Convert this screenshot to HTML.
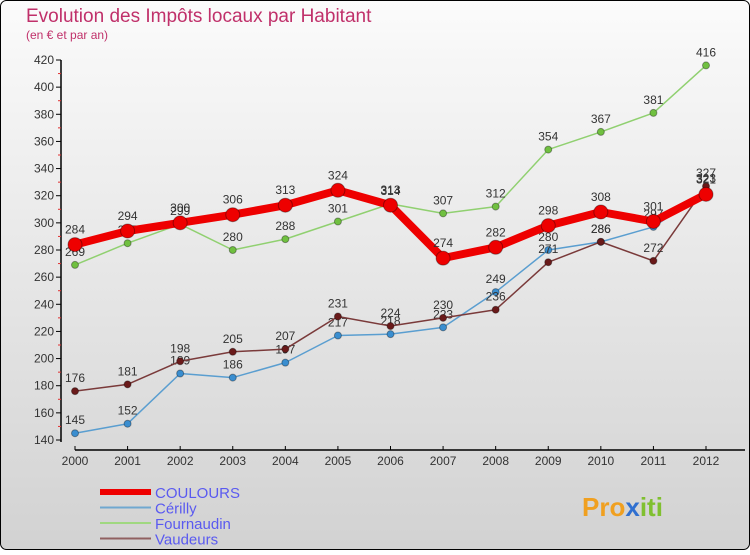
<!DOCTYPE html>
<html><head><meta charset="utf-8"><style>
body{margin:0;width:750px;height:550px;overflow:hidden;font-family:"Liberation Sans",sans-serif}
</style></head><body>
<svg width="750" height="550" xmlns="http://www.w3.org/2000/svg">
<defs><linearGradient id="bg" x1="0" y1="0" x2="0" y2="1"><stop offset="0" stop-color="#fbfbfb"/><stop offset="1" stop-color="#d2d2d2"/></linearGradient></defs>
<rect x="0.5" y="0.5" width="749" height="549" rx="6" fill="url(#bg)" stroke="#000"/>
<text x="26" y="22" font-size="19" fill="#c0306a">Evolution des Impôts locaux par Habitant</text>
<text x="26" y="39" font-size="12" fill="#c0306a">(en € et par an)</text>
<g id="axes"></g><g id="series"></g><g id="legend"></g>
<text x="582" y="516" font-size="26" font-weight="bold" fill="#f0a020">Pro<tspan fill="#3070d0">x</tspan><tspan fill="#80c030">iti</tspan></text>
</svg>
<script>
const years=[2000,2001,2002,2003,2004,2005,2006,2007,2008,2009,2010,2011,2012];
const yTicks=[140,160,180,200,220,240,260,280,300,320,340,360,380,400,420];
const coulours=[284,294,300,306,313,324,313,274,282,298,308,301,321];
const cerilly=[145,152,189,186,197,217,218,223,249,280,286,297,323];
const fournaudin=[269,285,299,280,288,301,314,307,312,354,367,381,416];
const vaudeurs=[176,181,198,205,207,231,224,230,236,271,286,272,327];
const NS="http://www.w3.org/2000/svg";
const xs=i=>75+i*(706-75)/(years.length-1);
const ys=v=>440-(v-140)*380/280;
function mk(t,a,p){const e=document.createElementNS(NS,t);for(const k in a)e.setAttribute(k,a[k]);p.appendChild(e);return e;}
const ax=document.getElementById('axes');
let l=mk('line',{x1:61,y1:60,x2:61,y2:442,stroke:'#000','stroke-width':1.5},ax);


l=mk('line',{x1:75,y1:450,x2:745,y2:450,stroke:'#000','stroke-width':1.5},ax);


yTicks.forEach((v,i)=>{
  mk('line',{x1:56,x2:61,y1:ys(v),y2:ys(v),stroke:'#000'},ax);
  if(i<yTicks.length-1) mk('line',{x1:58,x2:61,y1:ys(v+10),y2:ys(v+10),stroke:'#e03030'},ax);
  const t=mk('text',{x:54,y:ys(v)+4,'font-size':12,'text-anchor':'end',fill:'#333'},ax);t.textContent=v;
  
  
});
years.forEach((y,i)=>{
  mk('line',{x1:xs(i),x2:xs(i),y1:446,y2:450,stroke:'#000'},ax);
  const t=mk('text',{x:xs(i),y:465,'font-size':12,'text-anchor':'middle',fill:'#333'},ax);t.textContent=y;
  
  
});
const sg=document.getElementById('series');
function draw(vals,color,w,r,name,dot){
  const g=mk('g',{},sg);
  
  
  mk('polyline',{points:vals.map((v,i)=>xs(i)+','+ys(v)).join(' '),fill:'none',stroke:color,'stroke-width':w,'stroke-linejoin':'round'},g);
  vals.forEach((v,i)=>{
    const c=mk('circle',{cx:xs(i),cy:ys(v),r:r,fill:dot,stroke:'rgba(0,0,0,0.35)','stroke-width':1},g);
    
    
    const t=mk('text',{x:xs(i),y:ys(v)-9-(r>5?2:0),'font-size':12,'text-anchor':'middle',fill:'#333'},g);t.textContent=v;
    
    
  });
}
draw(fournaudin,'#90d070',1.5,3.5,'fournaudin','#70c040');
draw(cerilly,'#5a9ed0',1.5,3.5,'cerilly','#3a8ed0');
draw(vaudeurs,'#7a3a3a',1.5,3.5,'vaudeurs','#6a1a1a');
draw(coulours,'#ee0000',8,7,'coulours','#ee0000');
const lg=document.getElementById('legend');
const items=[['COULOURS','#ee0000',6],['Cérilly','#70a8d0',2],['Fournaudin','#a0d880',2],['Vaudeurs','#906060',2]];
items.forEach((it,i)=>{
  const y=492+i*15.5;
  const g=mk('g',{},lg);
  
  
  mk('line',{x1:100,x2:151,y1:y,y2:y,stroke:it[1],'stroke-width':it[2]},g);
  const t=mk('text',{x:155,y:y+6,'font-size':15,fill:'#5a5af0'},g);t.textContent=it[0];
});
</script>
</body></html>
